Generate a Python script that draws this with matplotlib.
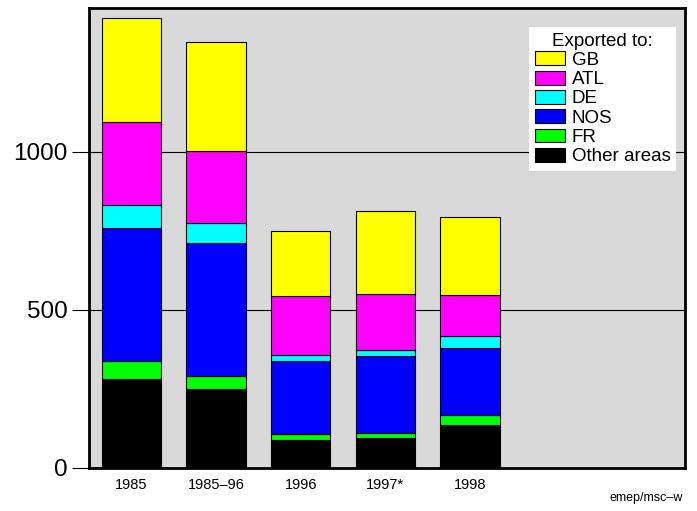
import matplotlib
matplotlib.use("Agg")
import matplotlib.pyplot as plt
import numpy as np

plt.rcParams['font.family'] = ['Liberation Sans', 'DejaVu Sans']

categories = ["1985", "1985\u201396", "1996", "1997*", "1998"]
other = [281, 249, 88, 96, 135]
fr = [57, 43, 21, 16, 34]
nos = [420, 421, 228, 241, 212]
de = [74, 62, 22, 19, 38]
atl = [263, 229, 184, 177, 127]
gb = [328, 342, 207, 263, 249]

series = [("Other areas", other, "#000000"),
          ("FR", fr, "#00ff00"),
          ("NOS", nos, "#0000ff"),
          ("DE", de, "#00ffff"),
          ("ATL", atl, "#ff00ff"),
          ("GB", gb, "#ffff00")]

fig = plt.figure(figsize=(6.97, 5.11), dpi=100)
ax = fig.add_axes([89/697, 1-468/511, 596/697, 460/511])
ax.set_facecolor("#d9d9d9")

x = np.arange(len(categories))
bottom = np.zeros(len(categories))
handles = {}
for name, vals, col in series:
    h = ax.bar(x, vals, 0.7, bottom=bottom, color=col, edgecolor="black",
               linewidth=0.8, zorder=3, label=name)
    handles[name] = h
    bottom += np.array(vals)

ax.set_xlim(-0.5, 6.54)
ax.set_ylim(0, 1455)
ax.set_yticks([0, 500, 1000])
ax.set_yticklabels(["0", "500", "1000"], fontsize=17.5)
ax.set_xticks(x)
ax.set_xticklabels(categories, fontsize=10.5)
ax.tick_params(axis='x', length=0, pad=7)
ax.tick_params(axis='y', length=12, width=0.8, pad=3.5)
for yv in [500, 1000]:
    ax.axhline(yv, color="black", linewidth=0.8, zorder=1)
for s in ax.spines.values():
    s.set_linewidth(2)

order = ["GB", "ATL", "DE", "NOS", "FR", "Other areas"]
leg = ax.legend([handles[n] for n in order], order, title="Exported to:",
                loc="upper right", bbox_to_anchor=(0.985, 0.9587),
                fontsize=13.5, title_fontsize=13.5, frameon=True, fancybox=False,
                framealpha=1, edgecolor="white", borderpad=0.3,
                labelspacing=0.1, handlelength=1.6, handleheight=0.75,
                handletextpad=0.35, borderaxespad=0)
leg.get_frame().set_linewidth(0)

fig.text(683/697, 1-498/511, "emep/msc\u2013w", fontsize=9, ha="right", va="center")

fig.savefig("out.png", dpi=100)
